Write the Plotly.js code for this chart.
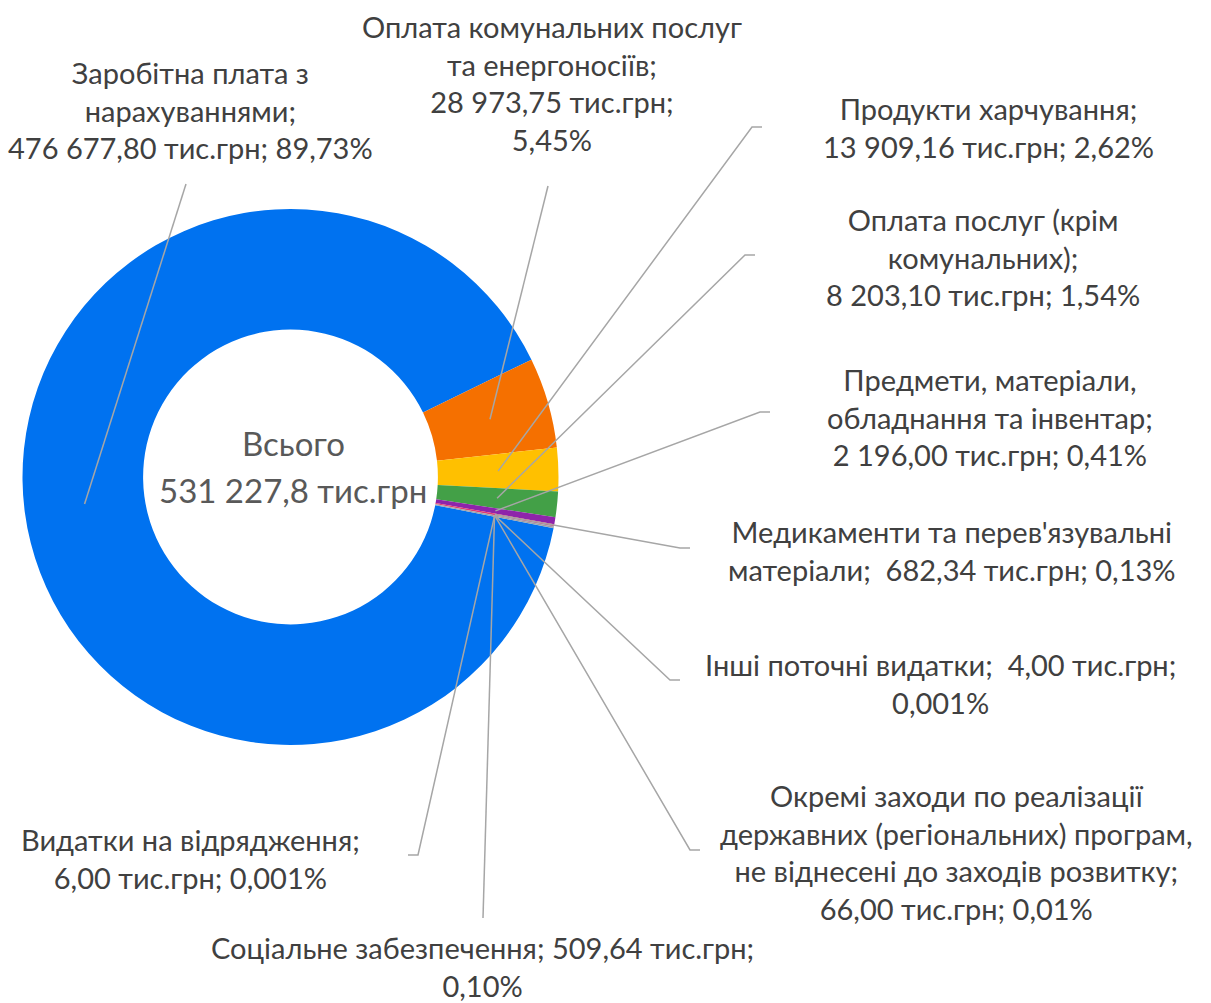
<!DOCTYPE html>
<html>
<head>
<meta charset="utf-8">
<script src="https://cdn.plot.ly/plotly-3.0.1.min.js"></script>
<style>
  html, body { margin: 0; padding: 0; background: #fff; }
  #plot { width: 1211px; height: 1003px; }
</style>
</head>
<body>
<div id="plot"></div>
<script>
// data
var categories = [
  'Заробітна плата з нарахуваннями',
  'Оплата комунальних послуг та енергоносіїв',
  'Продукти харчування',
  'Оплата послуг (крім комунальних)',
  'Предмети, матеріали, обладнання та інвентар',
  "Медикаменти та перев'язувальні матеріали",
  'Інші поточні видатки',
  'Окремі заходи по реалізації державних (регіональних) програм, не віднесені до заходів розвитку',
  'Соціальне забезпечення',
  'Видатки на відрядження'
];
var values = [476677.80, 28973.75, 13909.16, 8203.10, 2196.00, 682.34, 4.00, 66.00, 509.64, 6.00];
var labelTexts = [
  'Заробітна плата з<br>нарахуваннями;<br>476 677,80 тис.грн; 89,73%',
  'Оплата комунальних послуг<br>та енергоносіїв;<br>28 973,75 тис.грн;<br>5,45%',
  'Продукти харчування;<br>13 909,16 тис.грн; 2,62%',
  'Оплата послуг (крім<br>комунальних);<br>8 203,10 тис.грн; 1,54%',
  'Предмети, матеріали,<br>обладнання та інвентар;<br>2 196,00 тис.грн; 0,41%',
  "Медикаменти та перев'язувальні<br>матеріали;  682,34 тис.грн; 0,13%",
  'Інші поточні видатки;  4,00 тис.грн;<br>0,001%',
  'Окремі заходи по реалізації<br>державних (регіональних) програм,<br>не віднесені до заходів розвитку;<br>66,00 тис.грн; 0,01%',
  'Соціальне забезпечення; 509,64 тис.грн;<br>0,10%',
  'Видатки на відрядження;<br>6,00 тис.грн; 0,001%'
];
var centerTitle = 'Всього';
var centerTotal = '531 227,8 тис.грн';
var colors = ['#0072F0', '#F57000', '#FFC000', '#43A047', '#8E24AA',
              '#E53970', '#9E9E9E', '#3F6FB0', '#A0A0A0', '#6D8FC8'];

// layout (pixels)
var W = 1211, H = 1003;
var cx = 290.5, cy = 477, R = 268, hole = 0.55, rotation = 101;
var labelPos = [[190, 110], [552, 83], [988, 128], [983, 257], [990, 417],
                [952, 550], [940, 683], [956, 852], [482, 966], [190, 858]];
var leaderElbow = [[186, 184], [548, 186], [752, 127], [745, 255], [760, 412],
                   [680, 548], [670, 680], [690, 850], [483, 918], [418, 855]];
var leaderEnd = [null, null, [762, 127], [755, 255], [770, 412],
                 [690, 548], [680, 680], [700, 850], null, [408, 855]];

function px(x) { return x / W; }
function py(y) { return 1 - y / H; }

var total = values.reduce(function (a, b) { return a + b; }, 0);

var trace = {
  type: 'pie',
  labels: categories,
  values: values,
  hole: hole,
  sort: false,
  direction: 'clockwise',
  rotation: rotation,
  textinfo: 'none',
  hoverinfo: 'label+value+percent',
  marker: { colors: colors, line: { width: 0 } },
  domain: { x: [px(cx - R), px(cx + R)], y: [py(cy + R), py(cy - R)] }
};

var font = { family: 'Lato, "Open Sans", sans-serif', size: 29, color: '#404040' };
var annotations = [];
var shapes = [];
var cum = 0;
var rMid = R * (1 + hole) / 2;
for (var i = 0; i < values.length; i++) {
  var mid = (cum + values[i] / 2) / total;
  cum += values[i];
  var a = (rotation + mid * 360) * Math.PI / 180;
  var ax = cx + rMid * Math.sin(a);
  var ay = cy - rMid * Math.cos(a);

  var path = 'M ' + px(ax) + ' ' + py(ay) + ' L ' + px(leaderElbow[i][0]) + ' ' + py(leaderElbow[i][1]);
  if (leaderEnd[i]) path += ' L ' + px(leaderEnd[i][0]) + ' ' + py(leaderEnd[i][1]);
  shapes.push({
    type: 'path', xref: 'paper', yref: 'paper', path: path,
    line: { color: '#A6A6A6', width: 1.5 }
  });

  annotations.push({
    xref: 'paper', yref: 'paper',
    x: px(labelPos[i][0]), y: py(labelPos[i][1]),
    xanchor: 'center', yanchor: 'middle', align: 'center',
    showarrow: false, text: labelTexts[i], font: font
  });
}

annotations.push({
  xref: 'paper', yref: 'paper', x: px(293), y: py(443),
  xanchor: 'center', yanchor: 'middle', showarrow: false, text: centerTitle,
  font: { family: font.family, size: 33, color: '#595959' }
});
annotations.push({
  xref: 'paper', yref: 'paper', x: px(293), y: py(490),
  xanchor: 'center', yanchor: 'middle', showarrow: false, text: centerTotal,
  font: { family: font.family, size: 33, color: '#595959' }
});

var layout = {
  width: W,
  height: H,
  margin: { l: 0, r: 0, t: 0, b: 0, pad: 0 },
  showlegend: false,
  paper_bgcolor: '#ffffff',
  annotations: annotations,
  shapes: shapes
};

Plotly.newPlot('plot', [trace], layout, { displayModeBar: false, staticPlot: true });
</script>
</body>
</html>
